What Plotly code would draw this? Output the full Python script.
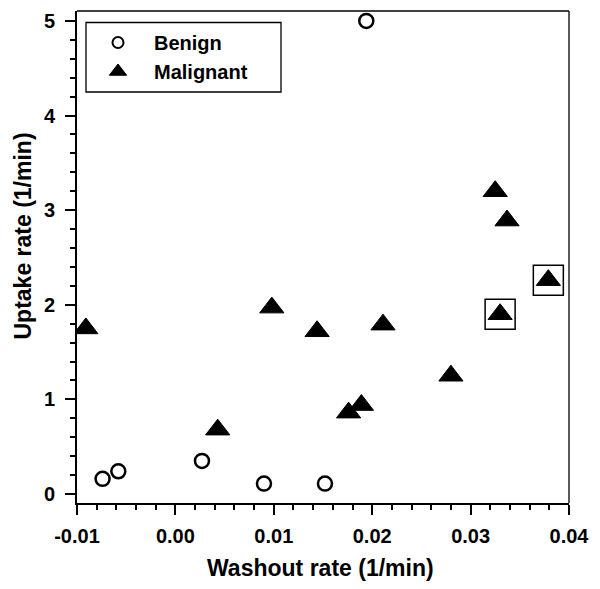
import plotly.graph_objects as go

# ---- data ----
benign_x = [-0.0074, -0.0058, 0.0027, 0.0090, 0.0152, 0.0194]
benign_y = [0.16, 0.24, 0.35, 0.11, 0.11, 5.0]

malignant_x = [-0.0091, 0.0043, 0.0098, 0.0144, 0.0176, 0.0189, 0.0211, 0.0280, 0.0325, 0.0330, 0.0337, 0.0379]
malignant_y = [1.75, 0.68, 1.97, 1.72, 0.86, 0.94, 1.79, 1.25, 3.20, 1.90, 2.89, 2.26]

highlight_x = [0.0330, 0.0379]
highlight_y = [1.90, 2.26]

x_tickvals = [-0.01, 0.00, 0.01, 0.02, 0.03, 0.04]
x_ticktext = ["-0.01", "0.00", "0.01", "0.02", "0.03", "0.04"]
y_tickvals = [0, 1, 2, 3, 4, 5]
y_ticktext = ["0", "1", "2", "3", "4", "5"]

x_title = "Washout rate (1/min)"
y_title = "Uptake rate (1/min)"

FONT = "Liberation Sans, Arial, Helvetica, sans-serif"

fig = go.Figure()

fig.add_trace(go.Scatter(
    x=benign_x, y=benign_y, mode="markers", name="Benign", showlegend=False,
    marker=dict(symbol="circle", size=14, color="white",
                line=dict(color="black", width=2.5)),
))
fig.add_trace(go.Scatter(
    x=malignant_x, y=malignant_y, mode="markers", name="Malignant", showlegend=False,
    marker=dict(symbol="triangle-up", size=21, color="black",
                line=dict(color="black", width=1)),
))
fig.add_trace(go.Scatter(
    x=highlight_x, y=highlight_y, mode="markers", showlegend=False,
    marker=dict(symbol="square-open", size=30, color="black",
                line=dict(color="black", width=1.5)),
))
# legend entries
fig.add_trace(go.Scatter(
    x=[None], y=[None], mode="markers", name="Benign",
    marker=dict(symbol="circle", size=11, color="white",
                line=dict(color="black", width=2)),
))
fig.add_trace(go.Scatter(
    x=[None], y=[None], mode="markers", name="Malignant",
    marker=dict(symbol="triangle-up", size=15, color="black",
                line=dict(color="black", width=1)),
))

axis_common = dict(
    showgrid=False, zeroline=False, showline=True, linecolor="black", linewidth=2,
    ticks="outside", ticklen=10, tickwidth=2, tickcolor="black", automargin=False,
    tickfont=dict(family=FONT, size=20, color="black", weight="bold"),
)

fig.update_xaxes(
    range=[-0.01, 0.04], tickvals=x_tickvals, ticktext=x_ticktext,
    minor=dict(dtick=0.002, ticks="outside", ticklen=5, tickwidth=2, tickcolor="black"),
    ticklabelstandoff=4,
    **axis_common,
)
fig.update_yaxes(
    range=[-0.095, 5.105], tickvals=y_tickvals, ticktext=y_ticktext,
    minor=dict(dtick=0.2, ticks="outside", ticklen=5, tickwidth=2, tickcolor="black"),
    ticklabelstandoff=6,
    **axis_common,
)

# axis titles
fig.add_annotation(text=x_title, xref="paper", yref="paper",
                   x=(320.5 - 77) / 492, y=-(568 - 503) / 492,
                   xanchor="center", yanchor="middle", showarrow=False,
                   font=dict(family=FONT, size=23, color="black", weight="bold"))
fig.add_annotation(text=y_title, xref="paper", yref="paper", textangle=-90,
                   x=-(77 - 22.5) / 492, y=1 - (236 - 11) / 492,
                   xanchor="center", yanchor="middle", showarrow=False,
                   font=dict(family=FONT, size=23, color="black", weight="bold"))

# top and right frame lines
fig.add_shape(type="line", xref="paper", yref="paper", x0=0, x1=1, y0=1, y1=1,
              line=dict(color="black", width=1.3))
fig.add_shape(type="line", xref="paper", yref="paper", x0=1, x1=1, y0=0, y1=1,
              line=dict(color="black", width=1.3))
# legend frame
fig.add_shape(type="rect", xref="paper", yref="paper",
              x0=(86 - 77) / 492, x1=(281 - 77) / 492,
              y0=1 - (92 - 11) / 492, y1=1 - (22.5 - 11) / 492,
              line=dict(color="black", width=1.3))

fig.update_layout(
    width=600, height=589,
    margin=dict(l=77, r=31, t=11, b=86),
    plot_bgcolor="white", paper_bgcolor="white",
    font=dict(family=FONT, color="black"),
    legend=dict(
        x=(82 - 77) / 492, y=1 - (23 - 11) / 492, xanchor="left", yanchor="top",
        bgcolor="rgba(0,0,0,0)", borderwidth=0,
        font=dict(family=FONT, size=20, color="black", weight="bold"),
        tracegroupgap=0, itemwidth=62,
    ),
)

fig.write_html("out.html", config={"displayModeBar": False},
               post_script="document.body.style.margin='0';document.body.style.overflow='hidden';")
